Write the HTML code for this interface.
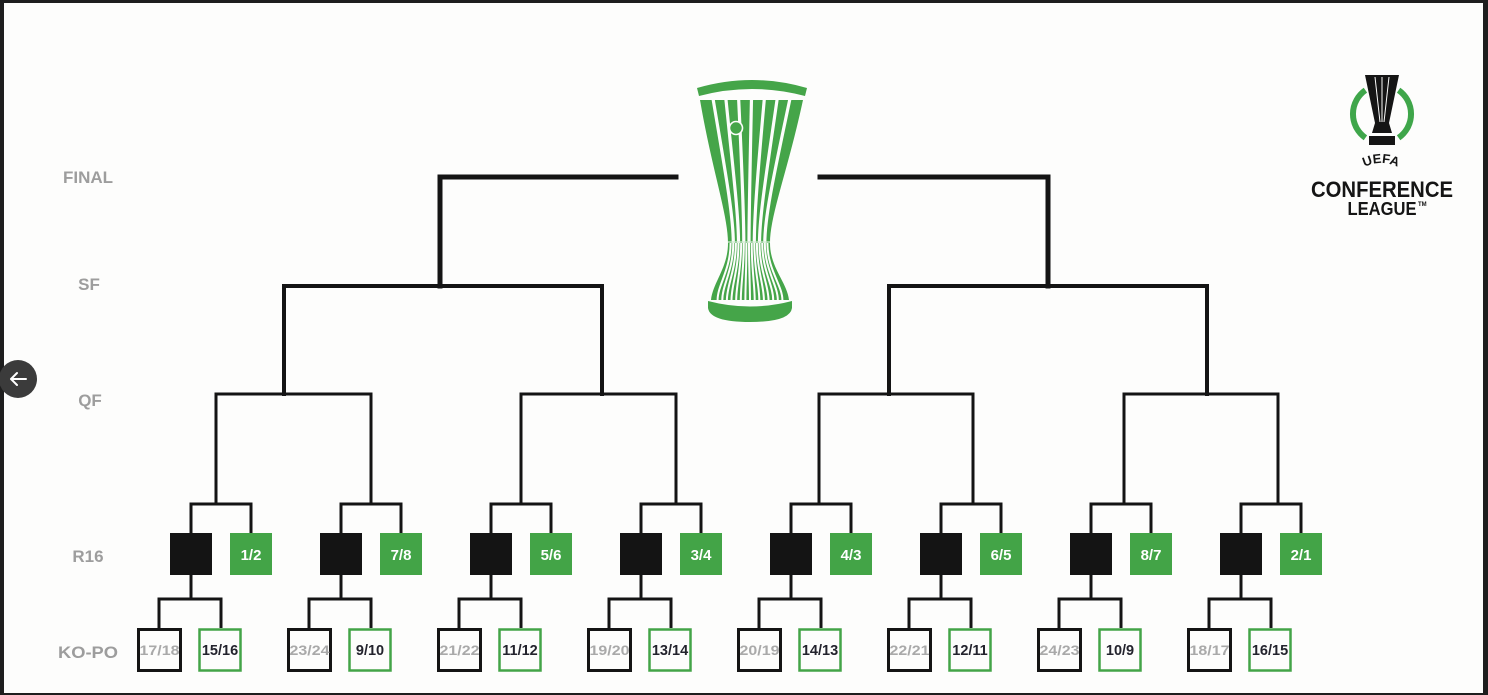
<!DOCTYPE html>
<html>
<head>
<meta charset="utf-8">
<style>
html,body{margin:0;padding:0;background:#1e1e1e;}
body{width:1488px;height:695px;overflow:hidden;}
svg{display:block;}
text{font-family:"Liberation Sans",Arial,sans-serif;font-weight:bold;}
</style>
</head>
<body>
<svg width="1488" height="695" viewBox="0 0 1488 695" xmlns="http://www.w3.org/2000/svg">
  <rect x="0" y="0" width="1488" height="695" fill="#1e1e1e"/>
  <rect x="4" y="3" width="1479" height="690" fill="#fdfdfc"/>

  <!-- back arrow -->
  <circle cx="18" cy="379" r="19" fill="#3b3b3b"/>
  <path d="M26 379 H11 M17 373 L11 379 L17 385" stroke="#ffffff" stroke-width="2" fill="none" stroke-linecap="round" stroke-linejoin="round"/>

  <!-- round labels -->
  <g fill="#9d9d9d" font-size="17" text-anchor="middle">
    <text x="88" y="183">FINAL</text>
    <text x="89" y="290">SF</text>
    <text x="90" y="406">QF</text>
    <text x="88" y="562">R16</text>
    <text x="88" y="658" textLength="60" lengthAdjust="spacingAndGlyphs">KO-PO</text>
  </g>

  <!-- final / SF / QF lines -->
  <g stroke="#141414" fill="none" stroke-linecap="square">
    <path d="M676 177 H440 V286" stroke-width="5"/>
    <path d="M820 177 H1048 V286" stroke-width="5"/>
    <path d="M284 394 V286 H602 V394" stroke-width="4"/>
    <path d="M889 394 V286 H1207 V394" stroke-width="4"/>
    <path d="M216 394 H371 M521 394 H676 M819 394 H973 M1124 394 H1278" stroke-width="3"/>
    <!-- R16 stems -->
    <path d="M216 394 V504 M371 394 V504 M521 394 V504 M676 394 V504 M819 394 V504 M973 394 V504 M1124 394 V504 M1278 394 V504" stroke-width="3"/>
  </g>

  <!-- groups -->
  <g stroke="#141414" stroke-width="3" fill="none">
    <path d="M191 533 V504 H251 V533 M191 575 V599 M159 628 V599 H221 V628"/>
    <path d="M341 533 V504 H401 V533 M341 575 V599 M309 628 V599 H371 V628"/>
    <path d="M491 533 V504 H551 V533 M491 575 V599 M459 628 V599 H521 V628"/>
    <path d="M641 533 V504 H701 V533 M641 575 V599 M609 628 V599 H671 V628"/>
    <path d="M791 533 V504 H851 V533 M791 575 V599 M759 628 V599 H821 V628"/>
    <path d="M941 533 V504 H1001 V533 M941 575 V599 M909 628 V599 H971 V628"/>
    <path d="M1091 533 V504 H1151 V533 M1091 575 V599 M1059 628 V599 H1121 V628"/>
    <path d="M1241 533 V504 H1301 V533 M1241 575 V599 M1209 628 V599 H1271 V628"/>
  </g>

  <!-- R16 black boxes -->
  <g fill="#141414">
    <rect x="170" y="533" width="42" height="42"/>
    <rect x="320" y="533" width="42" height="42"/>
    <rect x="470" y="533" width="42" height="42"/>
    <rect x="620" y="533" width="42" height="42"/>
    <rect x="770" y="533" width="42" height="42"/>
    <rect x="920" y="533" width="42" height="42"/>
    <rect x="1070" y="533" width="42" height="42"/>
    <rect x="1220" y="533" width="42" height="42"/>
  </g>
  <!-- R16 green boxes -->
  <g fill="#43a447">
    <rect x="230" y="533" width="42" height="42"/>
    <rect x="380" y="533" width="42" height="42"/>
    <rect x="530" y="533" width="42" height="42"/>
    <rect x="680" y="533" width="42" height="42"/>
    <rect x="830" y="533" width="42" height="42"/>
    <rect x="980" y="533" width="42" height="42"/>
    <rect x="1130" y="533" width="42" height="42"/>
    <rect x="1280" y="533" width="42" height="42"/>
  </g>
  <g fill="#ffffff" font-size="15" text-anchor="middle">
    <text x="251" y="560">1/2</text>
    <text x="401" y="560">7/8</text>
    <text x="551" y="560">5/6</text>
    <text x="701" y="560">3/4</text>
    <text x="851" y="560">4/3</text>
    <text x="1001" y="560">6/5</text>
    <text x="1151" y="560">8/7</text>
    <text x="1301" y="560">2/1</text>
  </g>

  <!-- KO-PO boxes -->
  <g stroke="#141414" stroke-width="3" fill="#fdfdfc">
    <rect x="138.5" y="629.5" width="42" height="41"/>
    <rect x="288.5" y="629.5" width="42" height="41"/>
    <rect x="438.5" y="629.5" width="42" height="41"/>
    <rect x="588.5" y="629.5" width="42" height="41"/>
    <rect x="738.5" y="629.5" width="42" height="41"/>
    <rect x="888.5" y="629.5" width="42" height="41"/>
    <rect x="1038.5" y="629.5" width="42" height="41"/>
    <rect x="1188.5" y="629.5" width="42" height="41"/>
  </g>
  <g stroke="#43a447" stroke-width="2.5" fill="#fdfdfc">
    <rect x="199.5" y="629.5" width="41" height="41"/>
    <rect x="349.5" y="629.5" width="41" height="41"/>
    <rect x="499.5" y="629.5" width="41" height="41"/>
    <rect x="649.5" y="629.5" width="41" height="41"/>
    <rect x="799.5" y="629.5" width="41" height="41"/>
    <rect x="949.5" y="629.5" width="41" height="41"/>
    <rect x="1099.5" y="629.5" width="41" height="41"/>
    <rect x="1249.5" y="629.5" width="41" height="41"/>
  </g>
  <g fill="#a9a9a9" font-size="14" text-anchor="middle" style="font-weight:normal">
    <text x="159.5" y="655" textLength="40" lengthAdjust="spacingAndGlyphs">17/18</text>
    <text x="309.5" y="655" textLength="40" lengthAdjust="spacingAndGlyphs">23/24</text>
    <text x="459.5" y="655" textLength="40" lengthAdjust="spacingAndGlyphs">21/22</text>
    <text x="609.5" y="655" textLength="40" lengthAdjust="spacingAndGlyphs">19/20</text>
    <text x="759.5" y="655" textLength="40" lengthAdjust="spacingAndGlyphs">20/19</text>
    <text x="909.5" y="655" textLength="40" lengthAdjust="spacingAndGlyphs">22/21</text>
    <text x="1059.5" y="655" textLength="40" lengthAdjust="spacingAndGlyphs">24/23</text>
    <text x="1209.5" y="655" textLength="40" lengthAdjust="spacingAndGlyphs">18/17</text>
  </g>
  <g fill="#23232d" font-size="14.5" text-anchor="middle">
    <text x="220" y="655">15/16</text>
    <text x="370" y="655">9/10</text>
    <text x="520" y="655">11/12</text>
    <text x="670" y="655">13/14</text>
    <text x="820" y="655">14/13</text>
    <text x="970" y="655">12/11</text>
    <text x="1120" y="655">10/9</text>
    <text x="1270" y="655">16/15</text>
  </g>

  <!-- Trophy -->
  <defs>
    <clipPath id="body">
      <path d="M700 100 C712 170 728 215 728 243 C728 268 713 282 711 300 L789 300 C787 282 770 268 770 243 C770 215 788 170 803 100 Z"/>
    </clipPath>
  </defs>
  <g fill="#45a549">
    <path d="M697 88 Q752 72 807 88 L805 96 Q752 82 699 96 Z"/>
    <path d="M700 100 C712 170 728 215 728 243 C728 268 713 282 711 300 L789 300 C787 282 770 268 770 243 C770 215 788 170 803 100 Z"/>
    <path d="M708 301 Q750 312 792 301 L792 308 Q790 322 750 322 Q710 322 708 308 Z"/>
  </g>
  <g clip-path="url(#body)" stroke="#fdfdfc" fill="none">
    <g stroke-width="3.2">
      <path d="M712.9 98 C725 170 733.3 215 733.3 243"/>
      <path d="M725.8 98 C733 170 738.5 215 738.5 243"/>
      <path d="M738.6 98 C742 170 743.8 215 743.8 243"/>
      <path d="M751.5 98 C750 170 749 215 749 243"/>
      <path d="M764.4 98 C758 170 754.3 215 754.3 243"/>
      <path d="M777.3 98 C767 170 759.5 215 759.5 243"/>
      <path d="M790.1 98 C775 170 764.8 215 764.8 243"/>
    </g>
    <g stroke-width="2">
      <path d="M730.6 243 C730.6 270 717.6 285 717.6 300"/>
      <path d="M733.3 243 C733.3 270 722.3 285 722.3 300"/>
      <path d="M735.9 243 C735.9 270 726.9 285 726.9 300"/>
      <path d="M738.5 243 C738.5 270 731.5 285 731.5 300"/>
      <path d="M741.2 243 C741.2 270 736.2 285 736.2 300"/>
      <path d="M743.8 243 C743.8 270 740.8 285 740.8 300"/>
      <path d="M746.4 243 C746.4 270 745.4 285 745.4 300"/>
      <path d="M749 243 C749 270 750 285 750 300"/>
      <path d="M751.7 243 C751.7 270 754.7 285 754.7 300"/>
      <path d="M754.3 243 C754.3 270 759.3 285 759.3 300"/>
      <path d="M756.9 243 C756.9 270 763.9 285 763.9 300"/>
      <path d="M759.5 243 C759.5 270 768.5 285 768.5 300"/>
      <path d="M762.2 243 C762.2 270 773.2 285 773.2 300"/>
      <path d="M764.8 243 C764.8 270 777.8 285 777.8 300"/>
      <path d="M767.4 243 C767.4 270 782.4 285 782.4 300"/>
    </g>
    <path d="M700 242 H800" stroke-width="1.2" stroke="#cfe9d0"/>
  </g>
  <circle cx="736" cy="128" r="6.5" fill="#45a549" stroke="#fdfdfc" stroke-width="1.6"/>
  <circle cx="736" cy="128" r="3.5" fill="#45a549"/>

  <!-- UEFA Conference League logo -->
  <g fill="none" stroke="#3fa64a" stroke-width="6">
    <path d="M1365.4 90.2 A29 29 0 0 0 1365.4 137.8"/>
    <path d="M1398.6 90.2 A29 29 0 0 1 1398.6 137.8"/>
  </g>
  <path d="M1365 75 L1399 75 L1389 123 L1392 133 L1372 133 L1375 123 Z" fill="#151515"/>
  <rect x="1369" y="136" width="26" height="9" fill="#151515"/>
  <g stroke="#fdfdfc" stroke-width="1" fill="none">
    <path d="M1375 77 L1380 122 M1382 77 L1382 122 M1389 77 L1384 122"/>
  </g>
  <defs>
    <path id="uefaArc" d="M1352 175 Q1381 151 1410 175"/>
  </defs>
  <text font-size="13" fill="#151515" text-anchor="middle"><textPath href="#uefaArc" startOffset="50%">UEFA</textPath></text>
  <text x="1382" y="197" font-size="22" fill="#151515" text-anchor="middle" textLength="142" lengthAdjust="spacingAndGlyphs">CONFERENCE</text>
  <text x="1382" y="215" font-size="18" fill="#151515" text-anchor="middle" textLength="69" lengthAdjust="spacingAndGlyphs">LEAGUE</text>
  <text x="1418" y="206" font-size="6" fill="#151515">TM</text>
</svg>
</body>
</html>
